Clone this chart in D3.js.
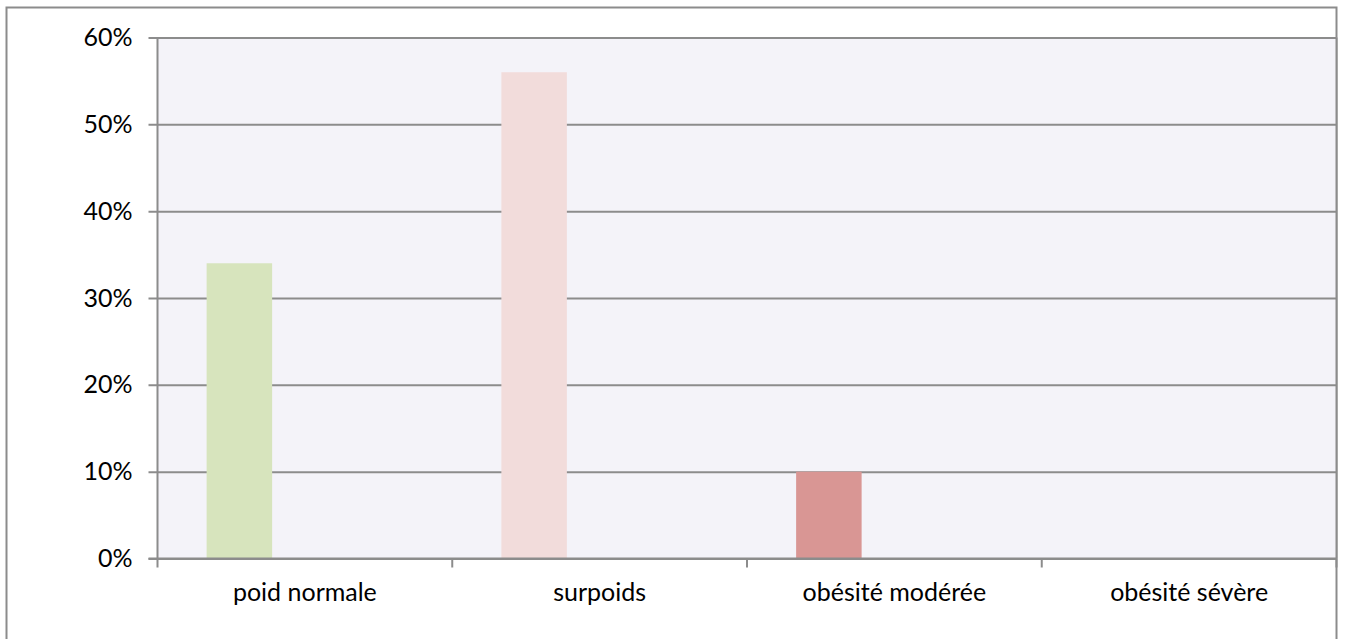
<!DOCTYPE html>
<html>
<head>
<meta charset="utf-8">
<script src="https://cdn.jsdelivr.net/npm/d3@7"></script>
<style>
  html, body { margin: 0; padding: 0; background: #ffffff; }
  svg { display: block; }
  text { font-family: Lato, "Liberation Sans", sans-serif; fill: #000; }
</style>
</head>
<body>
<svg id="chart" width="1345" height="639"></svg>
<script>
// Weight categories and their shares
const categories = ["poid normale", "surpoids", "obésité modérée", "obésité sévère"];
const values = [0.34, 0.56, 0.10, 0.00];
const barColors = ["#D7E4BD", "#F2DCDB", "#D99694", "#B9CDE5"];
const yTicks = [0, 0.1, 0.2, 0.3, 0.4, 0.5, 0.6];
// three slots per category; each value sits in the first slot
const slots = ["a", "b", "c"];

const svg = d3.select("#chart");
const fontSize = 25;

// outer frame (bottom edge runs past the canvas)
svg.append("rect")
  .attr("x", 6.5).attr("y", 7.5)
  .attr("width", 1330).attr("height", 700)
  .attr("fill", "#ffffff")
  .attr("stroke", "#8c8c8c").attr("stroke-width", 2);

const plot = { left: 157.5, right: 1336.5, top: 37.5, bottom: 558.5 };

const x = d3.scaleBand().domain(categories).range([plot.left, plot.right]).paddingInner(0).paddingOuter(0);
const xInner = d3.scaleBand().domain(slots).range([0, x.bandwidth()]).paddingInner(0).paddingOuter(0.75);
const y = d3.scaleLinear().domain([0, 0.6]).range([plot.bottom, plot.top]);

// plot background
svg.append("rect")
  .attr("x", plot.left).attr("y", plot.top)
  .attr("width", plot.right - plot.left).attr("height", plot.bottom - plot.top)
  .attr("fill", "#F4F3F9");

// horizontal gridlines + y axis
const yAxis = d3.axisLeft(y).tickValues(yTicks).tickFormat(d3.format(".0%"))
  .tickSize(-(plot.right - plot.left)).tickPadding(25);
const gy = svg.append("g").attr("transform", `translate(${plot.left},0)`).call(yAxis);
gy.select(".domain").remove();
gy.selectAll(".tick line")
  .attr("x1", -9)
  .attr("stroke", "#8c8c8c").attr("stroke-width", 2);
gy.selectAll(".tick text")
  .attr("font-size", fontSize).attr("font-family", "Lato, 'Liberation Sans', sans-serif").attr("fill", "#000");

// vertical axis line
svg.append("line")
  .attr("x1", plot.left).attr("x2", plot.left)
  .attr("y1", plot.top).attr("y2", plot.bottom + 9)
  .attr("stroke", "#8c8c8c").attr("stroke-width", 2);
// right edge of plot
svg.append("line")
  .attr("x1", plot.right).attr("x2", plot.right)
  .attr("y1", plot.top).attr("y2", plot.bottom)
  .attr("stroke", "#8c8c8c").attr("stroke-width", 2);

// bars
svg.append("g").selectAll("rect")
  .data(categories.map((c, i) => ({ c, v: values[i], color: barColors[i] })))
  .join("rect")
  .attr("x", d => x(d.c) + xInner("a"))
  .attr("width", xInner.bandwidth())
  .attr("y", d => y(d.v))
  .attr("height", d => y(0) - y(d.v))
  .attr("fill", d => d.color);

// x axis with boundary ticks between categories
const xAxis = d3.axisBottom(x).tickSize(0).tickPadding(25);
const gx = svg.append("g").attr("transform", `translate(0,${plot.bottom})`).call(xAxis);
gx.select(".domain").remove();
gx.selectAll(".tick text")
  .attr("font-size", fontSize).attr("font-family", "Lato, 'Liberation Sans', sans-serif").attr("fill", "#000");

const bounds = categories.map(c => x(c)).concat([x.range()[1]]);
svg.append("g").selectAll("line")
  .data(bounds.slice(1))
  .join("line")
  .attr("x1", d => d).attr("x2", d => d)
  .attr("y1", plot.bottom).attr("y2", plot.bottom + 9)
  .attr("stroke", "#8c8c8c").attr("stroke-width", 2);

// baseline
svg.append("line")
  .attr("x1", plot.left - 9).attr("x2", plot.right)
  .attr("y1", plot.bottom).attr("y2", plot.bottom)
  .attr("stroke", "#8c8c8c").attr("stroke-width", 2);
</script>
</body>
</html>
